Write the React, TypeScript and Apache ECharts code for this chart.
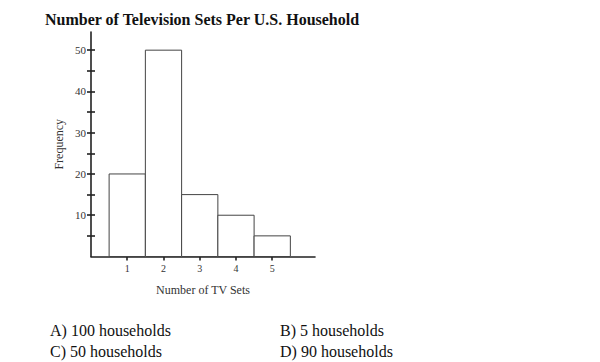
import React, { useEffect, useRef } from "react";
import * as echarts from "echarts";

const categories = [1, 2, 3, 4, 5];
const frequencies = [20, 50, 15, 10, 5];
const yLabelValues = [10, 20, 30, 40, 50];
const yTickValues = [5, 10, 15, 20, 25, 30, 35, 40, 45, 50];
const xTickValues = [1, 2, 3, 4, 5];
const titleText = "Number of Television Sets Per U.S. Household";
const xName = "Number of TV Sets";
const yName = "Frequency";
const answers = ["A) 100 households", "B) 5 households", "C) 50 households", "D) 90 households"];

const SERIF = "'Liberation Serif', 'Times New Roman', serif";

export default function App() {
  const ref = useRef<HTMLDivElement>(null);
  useEffect(() => {
    if (!ref.current) return;
    const chart = echarts.init(ref.current, undefined, { renderer: "svg" });
    const data = categories.map((c, i) => [c, frequencies[i]]);
    const axisLineStyle = { color: "#222", width: 1.6 };
    chart.setOption({
      animation: false,
      backgroundColor: "#fff",
      title: {
        text: titleText,
        left: 40,
        top: 6,
        textStyle: { fontFamily: SERIF, fontWeight: "bold", fontSize: 16, color: "#111" },
      },
      grid: { left: 91, right: 285, top: 32, bottom: 105.5, containLabel: false },
      xAxis: [
        {
          type: "value",
          min: 0,
          max: 6.18,
          position: "bottom",
          splitLine: { show: false },
          axisLine: { show: true, lineStyle: axisLineStyle },
          axisTick: { show: true, customValues: xTickValues, length: 4, lineStyle: axisLineStyle },
          axisLabel: {
            customValues: xTickValues,
            fontFamily: SERIF,
            fontSize: 10,
            color: "#333",
            margin: 7,
          },
          name: xName,
          nameLocation: "middle",
          nameGap: 27,
          nameTextStyle: { fontFamily: SERIF, fontSize: 12, color: "#333" },
        },
        {
          type: "value",
          min: 0,
          max: 6.18,
          position: "bottom",
          splitLine: { show: false },
          axisLine: { show: false },
          axisTick: { show: true, inside: true, customValues: xTickValues, length: 4, lineStyle: axisLineStyle },
          axisLabel: { show: false },
        },
      ],
      yAxis: [
        {
          type: "value",
          min: 0,
          max: 54.4,
          position: "left",
          splitLine: { show: false },
          axisLine: { show: true, lineStyle: axisLineStyle },
          axisTick: { show: true, customValues: yTickValues, length: 4, lineStyle: axisLineStyle },
          axisLabel: {
            customValues: yLabelValues,
            fontFamily: SERIF,
            fontSize: 11,
            color: "#333",
            margin: 5,
          },
          name: yName,
          nameLocation: "middle",
          nameGap: 26,
          nameTextStyle: { fontFamily: SERIF, fontSize: 12, color: "#333" },
        },
        {
          type: "value",
          min: 0,
          max: 54.4,
          position: "left",
          splitLine: { show: false },
          axisLine: { show: false },
          axisTick: { show: true, inside: true, customValues: yTickValues, length: 4, lineStyle: axisLineStyle },
          axisLabel: { show: false },
        },
      ],
      series: [
        {
          type: "custom",
          xAxisIndex: 0,
          yAxisIndex: 0,
          encode: { x: 0, y: 1 },
          data,
          renderItem: (params: any, api: any) => {
            const x = api.value(0);
            const y = api.value(1);
            const p0 = api.coord([x - 0.5, y]);
            const p1 = api.coord([x + 0.5, 0]);
            return {
              type: "rect",
              shape: { x: p0[0], y: p0[1], width: p1[0] - p0[0], height: p1[1] - p0[1] },
              style: { fill: "#fff", stroke: "#444", lineWidth: 1 },
            };
          },
        },
      ],
      graphic: [
        { type: "text", left: 50, top: 322, style: { text: answers[0], font: `16px ${SERIF}`, fill: "#111" } },
        { type: "text", left: 280, top: 322, style: { text: answers[1], font: `16px ${SERIF}`, fill: "#111" } },
        { type: "text", left: 50, top: 343, style: { text: answers[2], font: `16px ${SERIF}`, fill: "#111" } },
        { type: "text", left: 280, top: 343, style: { text: answers[3], font: `16px ${SERIF}`, fill: "#111" } },
      ],
    });
    return () => chart.dispose();
  }, []);
  return (
    <div
      ref={ref}
      style={{ position: "fixed", left: 0, top: 0, width: 600, height: 362, background: "#fff" }}
    />
  );
}
